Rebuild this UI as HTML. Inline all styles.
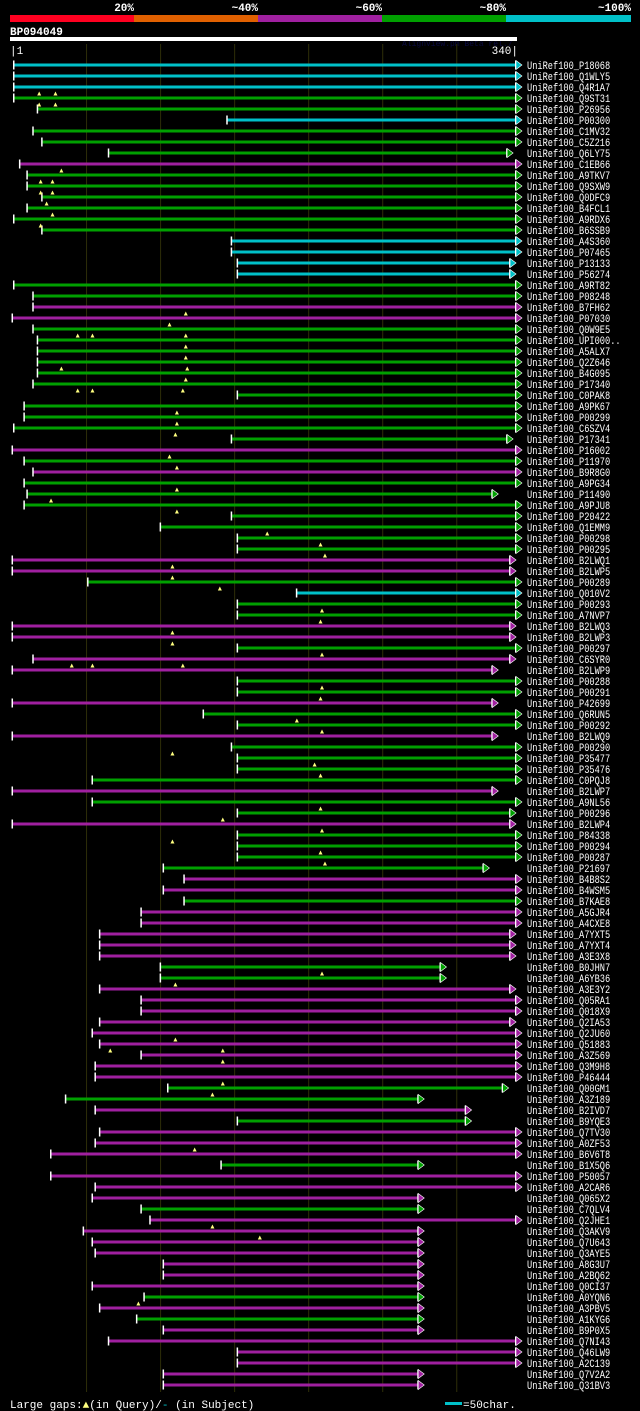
<!DOCTYPE html>
<html><head><meta charset="utf-8"><style>
html,body{margin:0;padding:0;background:#000;}
svg{display:block;font-family:"Liberation Mono",monospace;}
</style></head><body>
<svg id="chart" width="640" height="1411" viewBox="0 0 640 1411" xmlns="http://www.w3.org/2000/svg">
<rect x="0" y="0" width="640" height="1411" fill="#000"/>
<g id="legend">
<rect x="10" y="15" width="124" height="7" fill="#ff0020"/>
<rect x="134" y="15" width="124" height="7" fill="#e06000"/>
<rect x="258" y="15" width="124" height="7" fill="#a020a0"/>
<rect x="382" y="15" width="124" height="7" fill="#00a000"/>
<rect x="506" y="15" width="125" height="7" fill="#00c0c8"/>
<g font-size="11" font-weight="bold" fill="#fff" text-anchor="end">
<text x="134" y="11">20%</text>
<text x="258" y="11">~40%</text>
<text x="382" y="11">~60%</text>
<text x="506" y="11">~80%</text>
<text x="631" y="11">~100%</text>
</g></g>
<text x="10" y="35" font-size="11" font-weight="bold" fill="#fff">BP094049</text>
<text x="402" y="46" font-size="8" fill="#0a0a40">AlignView.pm Beta rel.7</text>
<rect x="10" y="37" width="507" height="4" fill="#fff"/>
<text x="10" y="54" font-size="11" fill="#fff">|1</text>
<text x="518" y="54" font-size="11" fill="#fff" text-anchor="end">340|</text>
<g id="grid"></g>
<g id="rows"></g>
<g id="gaps"></g>
<g font-size="11" fill="#fff">
<text x="10" y="1408">Large gaps:<tspan fill="#ffff80">▲</tspan>(in Query)/<tspan fill="#00c0c8">-</tspan> (in Subject)</text>
<rect x="445" y="1402" width="17" height="3" fill="#00c0c8"/>
<text x="463" y="1408">=50char.</text>
</g>
</svg>
<script>
const names=["P18068","Q1WLY5","Q4R1A7","Q9ST31","P26956","P00300","C1MV32","C5Z216","Q6LY75","C1EB66","A9TKV7","Q9SXW9","Q0DFC9","B4FCL1","A9RDX6","B6SSB9","A4S360","P07465","P13133","P56274","A9RT82","P08248","B7FH62","P07030","Q0W9E5","UPI000..","A5ALX7","Q2Z646","B4G095","P17340","C0PAK8","A9PK67","P00299","C6SZV4","P17341","P16002","P11970","B9R8G0","A9PG34","P11490","A9PJU8","P20422","Q1EMM9","P00298","P00295","B2LWQ1","B2LWP5","P00289","Q010V2","P00293","A7NVP7","B2LWQ3","B2LWP3","P00297","C6SYR0","B2LWP9","P00288","P00291","P42699","Q6RUN5","P00292","B2LWQ9","P00290","P35477","P35476","C0PQJ8","B2LWP7","A9NL56","P00296","B2LWP4","P84338","P00294","P00287","P21697","B4B8S2","B4WSM5","B7KAE8","A5GJR4","A4CXE8","A7YXT5","A7YXT4","A3E3X8","B0JHN7","A6YB36","A3E3Y2","Q05RA1","Q018X9","Q2IA53","Q2JU60","Q51883","A3Z569","Q3M9H8","P46444","Q00GM1","A3Z189","B2IVD7","B9YQE3","Q7TV30","A0ZF53","B6V6T8","B1X5Q6","P50057","A2CAR6","Q065X2","C7QLV4","Q2JHE1","Q3AKV9","Q7U643","Q3AYE5","A8G3U7","A2BQ62","Q0CI37","A0YQN6","A3PBV5","A1KYG6","B9P0X5","Q7NI43","Q46LW9","A2C139","Q7V2A2","Q31BV3"];
const starts=[1,1,1,1,17,145,14,20,65,5,10,10,20,10,1,20,148,148,152,152,1,14,14,0,14,17,17,17,17,14,152,8,8,1,148,0,8,14,8,10,8,148,100,152,152,0,0,51,192,152,152,0,0,152,14,0,152,152,0,129,152,0,148,152,152,54,0,54,152,0,152,152,152,102,116,102,116,87,87,59,59,59,100,100,59,87,87,59,54,59,87,56,56,105,36,56,152,59,56,26,141,26,56,54,87,93,48,54,56,102,102,54,89,59,84,102,65,152,152,102,102];
const ends=[340,340,340,340,340,340,340,340,334,340,340,340,340,340,340,340,340,340,336,336,340,340,340,340,340,340,340,340,340,340,340,340,340,340,334,340,340,340,340,324,340,340,340,340,340,336,336,340,340,340,340,336,336,340,336,324,340,340,324,340,340,324,340,340,340,340,324,340,336,336,340,340,340,318,340,340,340,340,340,336,336,336,289,289,336,340,340,336,340,340,340,340,340,331,274,306,306,340,340,340,274,340,340,274,274,340,274,274,274,274,274,274,274,274,274,274,340,340,340,274,274];
const colorGroups=["cccggcgggm","ggggggcccc","ggmmgggggg","gggggmgmgg","gggggmmgcg","gmmgmmggmg","gmggggmggm","ggggmmgmmm","mmggmmmmmm","mmmggmgmmm","gmmmgmmmmm","mmgmgmmmmmm"];
const colors=colorGroups.join("");
const gapRows=[2,2,3,3,9,10,10,11,11,12,13,14,22,23,24,24,24,25,26,27,27,28,29,29,29,31,32,33,35,36,38,39,40,42,43,44,45,46,47,49,50,51,52,53,54,54,54,56,57,59,60,62,63,64,67,68,69,70,71,72,82,83,88,89,89,90,92,93,98,105,106,112];
const gapPos=[18,29,18,29,33,19,27,19,27,23,27,19,117,106,44,54,117,117,117,33,118,117,44,54,115,111,111,110,106,111,111,26,111,172,208,211,108,108,140,209,208,108,108,209,40,54,115,209,208,192,209,108,204,208,208,142,209,108,208,211,209,110,110,142,66,142,142,135,123,135,167,85];
const palette={c:"#00c0c8",g:"#00a000",m:"#a020a0"};
const X0=14,X1=516,D0=1,D1=340;
function xs(c){return X0+(c-D0)*(X1-X0)/(D1-D0);}
function ys(i){return 65+i*11;}
const NS="http://www.w3.org/2000/svg";
function mk(tag,attrs,parent){const e=document.createElementNS(NS,tag);for(const k in attrs)e.setAttribute(k,attrs[k]);parent.appendChild(e);return e;}
const grid=document.getElementById('grid');
for(let c=50;c<=340;c+=50){
  const l=mk('line',{x1:xs(c),x2:xs(c),y1:44,y2:1392,stroke:'#2e2e08','stroke-width':1},grid);
  
  
}
const rows=document.getElementById('rows');
names.forEach((n,i)=>{
  const y=ys(i);
  const g=mk('g',{},rows);
  
  
  const col=palette[colors[i]]||palette.m;
  const x1=xs(starts[i]),x2=xs(ends[i]);
  mk('rect',{x:x1,y:y-1.5,width:x2-x1,height:3,fill:col},g);
  mk('rect',{x:x1-1,y:y-4.5,width:1.5,height:9,fill:'#fff'},g);
  mk('rect',{x:x2-1,y:y-4.5,width:1.5,height:9,fill:'#fff'},g);
  mk('polygon',{points:(x2)+','+(y-4.5)+' '+(x2+6)+','+y+' '+(x2)+','+(y+4.5),fill:col,stroke:'#fff','stroke-width':0.6},g);
  const label='UniRef100_'+n;
  const t=mk('text',{x:527,y:y+4,'font-size':11,fill:'#fff',textLength:(label.length*5.2).toFixed(1),lengthAdjust:'spacingAndGlyphs'},g);
  t.textContent=label;
  
  
});
const gaps=document.getElementById('gaps');
gapRows.forEach((r,k)=>{
  const x=xs(gapPos[k]),y=ys(r);
  const p=mk('polygon',{points:(x-2)+','+(y+8.5)+' '+x+','+(y+4.5)+' '+(x+2)+','+(y+8.5),fill:'#ffff80'},gaps);
  
  
});
</script>
</body></html>
